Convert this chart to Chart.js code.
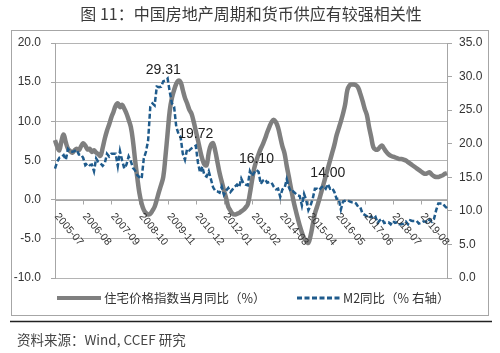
<!DOCTYPE html>
<html lang="zh">
<head>
<meta charset="UTF-8">
<title>中国房地产周期和货币供应</title>
<style>
  body { margin: 0; background: #fff; }
  canvas { display: block; }
</style>
</head>
<body>
<canvas id="cycleChart" width="500" height="353"></canvas>

<script src="https://cdn.jsdelivr.net/npm/chart.js"></script>
<script>
// monthly categories, 2005-07 .. 2020-08
const firstYear = 2005, firstMonth = 7, monthCount = 182;
const months = [];
for (let i = 0; i < monthCount; i++) {
  const m = firstMonth - 1 + i;
  months.push((firstYear + Math.floor(m / 12)) + '-' + String(m % 12 + 1).padStart(2, '0'));
}

const xTickLabels = ['2005-07', '2006-08', '2007-09', '2008-10', '2009-11', '2010-12', '2012-01',
  '2013-02', '2014-03', '2015-04', '2016-05', '2017-06', '2018-07', '2019-08'];

// 住宅价格指数当月同比 (%), left axis
const housePrice = [
  7.6, 6.8, 6.3, 7.5, 8.3, 7.3,                                       // 2005 H2
  6.5, 6.2, 6.0, 6.3, 6.5, 6.3, 6.8, 7.2, 6.9, 6.4, 6.5, 6.1,         // 2006
  6.3, 6.0, 5.8, 5.6, 6.6, 7.8, 8.8, 9.6, 10.5, 11.2, 12.0, 12.3,     // 2007
  11.8, 12.1, 11.6, 11.0, 10.2, 9.3, 7.5, 5.0, 2.8, 0.8, -0.5, -1.3,  // 2008
  -1.7, -1.9, -1.8, -1.4, -0.9, 0.0, 1.0, 1.9, 2.9, 5.5, 8.5, 11.4,   // 2009
  13.0, 14.0, 14.8, 15.2, 15.0, 14.0, 13.0, 12.3, 11.5, 11.0, 10.0, 8.8, // 2010
  7.6, 6.3, 5.2, 4.5, 4.4, 6.0, 7.0, 7.2, 6.2, 4.8, 3.4, 2.3,         // 2011
  1.2, 0.2, -0.9, -1.4, -1.8, -1.9, -1.8, -1.7, -1.5, -1.3, -1.0, -0.6, // 2012
  0.8, 2.5, 4.0, 5.0, 5.8, 6.5, 7.1, 7.8, 8.6, 9.3, 9.9, 10.2,        // 2013
  9.9, 9.2, 8.0, 6.8, 5.9, 4.3, 2.9, 1.4, 0.0, -1.2, -2.3, -3.3,      // 2014
  -4.2, -4.9, -5.3, -5.5, -4.6, -3.2, -1.8, -0.9, 0.0, 1.0, 2.0, 3.0, // 2015
  4.0, 5.0, 6.0, 7.0, 8.2, 9.1, 10.0, 11.0, 12.2, 14.0, 14.6, 14.7,   // 2016
  14.7, 14.6, 14.3, 13.5, 12.6, 11.6, 10.8, 9.3, 8.0, 6.7, 6.4, 6.4,  // 2017
  6.7, 6.9, 6.5, 6.1, 5.8, 5.6, 5.5, 5.4, 5.3, 5.2, 5.2, 5.1,         // 2018
  5.0, 4.8, 4.6, 4.4, 4.2, 4.0, 3.8, 3.6, 3.4, 3.3, 3.4, 3.5,         // 2019
  3.2, 3.0, 2.9, 2.9, 3.0, 3.1, 3.3, 3.4                              // 2020 Jan-Aug
];

// M2同比 (%), right axis
const m2Growth = [
  16.3, 17.3, 17.9, 18.0, 18.3, 17.6,                                 // 2005 H2
  19.2, 18.8, 18.8, 18.9, 19.1, 18.4, 18.4, 17.9, 16.8, 17.1, 16.8, 16.9, // 2006
  15.9, 17.8, 17.3, 17.1, 16.7, 17.1, 18.5, 18.1, 18.5, 18.5, 18.5, 16.7, // 2007
  18.9, 17.5, 16.3, 16.9, 18.1, 17.4, 16.4, 16.0, 15.3, 15.0, 14.8, 17.8, // 2008
  18.8, 20.5, 25.5, 26.0, 25.7, 28.5, 28.4, 28.5, 29.31, 29.4, 29.7, 27.7, // 2009
  26.0, 25.5, 22.5, 21.5, 21.0, 18.5, 17.6, 19.2, 19.0, 19.3, 19.5, 19.72, // 2010
  17.2, 15.7, 16.6, 15.3, 15.1, 15.9, 14.7, 13.5, 13.0, 12.9, 12.7, 13.6, // 2011
  12.4, 13.0, 13.4, 12.8, 13.2, 13.6, 13.9, 13.5, 14.8, 14.1, 13.9, 13.8, // 2012
  15.9, 15.2, 15.7, 16.10, 15.8, 14.0, 14.5, 14.7, 14.2, 14.3, 14.2, 13.6, // 2013
  13.2, 13.3, 12.1, 13.2, 13.4, 14.7, 13.5, 12.8, 12.9, 12.6, 12.3, 12.2, // 2014
  10.8, 12.5, 11.6, 10.1, 10.8, 11.8, 13.3, 13.3, 13.1, 13.5, 13.7, 13.3, // 2015
  14.00, 13.3, 13.4, 12.8, 11.8, 11.8, 10.2, 11.4, 11.5, 11.6, 11.4, 11.3, // 2016
  11.3, 11.1, 10.6, 10.5, 9.6, 9.4, 9.2, 8.9, 9.2, 8.8, 9.1, 8.2,     // 2017
  8.6, 8.8, 8.2, 8.3, 8.3, 8.0, 8.5, 8.2, 8.3, 8.0, 8.0, 8.1,         // 2018
  8.4, 8.0, 8.6, 8.5, 8.5, 8.5, 8.1, 8.2, 8.4, 8.4, 8.2, 8.7,         // 2019
  8.4, 8.8, 10.1, 11.1, 11.1, 11.1, 10.7, 10.4                        // 2020 Jan-Aug
];

// months whose M2 value is written on the chart
const m2Callouts = ['2009-09', '2010-12', '2013-04', '2016-01'];

const titleText = '图 11：中国房地产周期和货币供应有较强相关性';
const sourceText = '资料来源：Wind, CCEF 研究';
const seriesNames = ['住宅价格指数当月同比（%）', 'M2同比（% 右轴）'];

const GRAY = '#7f7f7f';
const BLUE = '#1f5b8c';
const AXIS = '#a6a6a6';
const NUM_FONT = '"Liberation Sans", Arial, sans-serif';
const CJK_FONT = '"Noto Sans CJK SC", sans-serif';

const decor = {
  id: 'decor',
  beforeDraw(chart) {
    const ctx = chart.ctx;
    ctx.save();
    ctx.fillStyle = '#fff';
    ctx.fillRect(0, 0, chart.width, chart.height);
    ctx.fillStyle = '#3a3a3a';
    ctx.font = '16px ' + CJK_FONT;
    ctx.textAlign = 'center';
    ctx.textBaseline = 'middle';
    ctx.fillText(titleText, 251, 14);
    ctx.strokeStyle = AXIS;
    ctx.lineWidth = 1;
    ctx.strokeRect(11.5, 30.5, 477, 285);
    ctx.restore();
  },
  beforeDatasetsDraw(chart) {
    // category axis sits on the 0 line of the left axis
    const ctx = chart.ctx, x = chart.scales.x, y0 = Math.round(chart.scales.y.getPixelForValue(0)) + 0.5;
    ctx.save();
    ctx.strokeStyle = AXIS;
    ctx.lineWidth = 1;
    ctx.beginPath();
    ctx.moveTo(chart.chartArea.left, y0);
    ctx.lineTo(chart.chartArea.right, y0);
    xTickLabels.forEach(lbl => {
      const px = Math.round(x.getPixelForValue(months.indexOf(lbl))) + 0.5;
      ctx.moveTo(px, y0);
      ctx.lineTo(px, y0 + 4);
    });
    ctx.stroke();
    ctx.restore();
  },
  afterDatasetsDraw(chart) {
    const ctx = chart.ctx, x = chart.scales.x, y = chart.scales.y, y2 = chart.scales.y2;
    const y0 = y.getPixelForValue(0);
    ctx.save();
    // rotated month labels
    ctx.fillStyle = '#333';
    ctx.font = '10.5px ' + NUM_FONT;
    ctx.textAlign = 'left';
    ctx.textBaseline = 'middle';
    xTickLabels.forEach(lbl => {
      const px = x.getPixelForValue(months.indexOf(lbl));
      ctx.save();
      ctx.translate(px + 1.4, y0 + 15);
      ctx.rotate(50 * Math.PI / 180);
      ctx.fillText(lbl, 0, 0);
      ctx.restore();
    });
    // M2 value callouts
    ctx.fillStyle = '#222';
    ctx.font = '14px ' + NUM_FONT;
    ctx.textAlign = 'center';
    ctx.textBaseline = 'middle';
    m2Callouts.forEach(mo => {
      const i = months.indexOf(mo);
      ctx.fillText(m2Growth[i].toFixed(2), x.getPixelForValue(i), y2.getPixelForValue(m2Growth[i]) - 11);
    });
    ctx.restore();
  },
  afterDraw(chart) {
    const ctx = chart.ctx;
    ctx.save();
    // legend
    ctx.lineWidth = 4;
    ctx.strokeStyle = GRAY;
    ctx.beginPath(); ctx.moveTo(57, 298); ctx.lineTo(101, 298); ctx.stroke();
    ctx.lineWidth = 3;
    ctx.strokeStyle = BLUE;
    ctx.setLineDash([5, 2.5]);
    ctx.beginPath(); ctx.moveTo(297, 298); ctx.lineTo(341, 298); ctx.stroke();
    ctx.setLineDash([]);
    ctx.fillStyle = '#333';
    ctx.font = '12.5px ' + CJK_FONT;
    ctx.textAlign = 'left';
    ctx.textBaseline = 'middle';
    ctx.fillText(seriesNames[0], 104, 298);
    ctx.fillText(seriesNames[1], 343, 298);
    // rule + source
    ctx.strokeStyle = '#222';
    ctx.lineWidth = 1.5;
    ctx.beginPath(); ctx.moveTo(10, 321.5); ctx.lineTo(492, 321.5); ctx.stroke();
    ctx.fillStyle = '#444';
    ctx.font = '13.5px ' + CJK_FONT;
    ctx.fillText(sourceText, 17, 340);
    ctx.restore();
  }
};

const ctx = document.getElementById('cycleChart').getContext('2d');
new Chart(ctx, {
  type: 'line',
  data: {
    labels: months,
    datasets: [
      {
        label: seriesNames[0],
        data: housePrice,
        yAxisID: 'y',
        borderColor: GRAY,
        borderWidth: 4.5,
        pointRadius: 0,
        tension: 0.4,
        order: 1
      },
      {
        label: seriesNames[1],
        data: m2Growth,
        yAxisID: 'y2',
        borderColor: BLUE,
        borderWidth: 2.5,
        borderDash: [5, 2.5],
        pointRadius: 0,
        tension: 0,
        order: 0
      }
    ]
  },
  options: {
    responsive: false,
    animation: false,
    layout: { padding: { left: 10, right: 0, top: 43, bottom: 75 } },
    plugins: {
      legend: { display: false },
      title: { display: false },
      tooltip: { enabled: false }
    },
    scales: {
      x: { display: false, offset: false },
      y: {
        position: 'left',
        min: -10,
        max: 20,
        afterFit: s => { s.width = 45; },
        ticks: {
          stepSize: 5,
          padding: 10,
          color: '#333',
          font: { family: NUM_FONT, size: 12 },
          callback: v => v.toFixed(1)
        },
        grid: { color: '#b4b4b4', tickLength: 4, tickColor: AXIS },
        border: { color: AXIS }
      },
      y2: {
        position: 'right',
        min: 0,
        max: 35,
        afterFit: s => { s.width = 53; },
        ticks: {
          stepSize: 5,
          padding: 7,
          color: '#333',
          font: { family: NUM_FONT, size: 12 },
          callback: v => v.toFixed(1)
        },
        grid: { drawOnChartArea: false, tickLength: 5, color: AXIS },
        border: { color: AXIS }
      }
    }
  },
  plugins: [decor]
});
</script>
</body>
</html>
